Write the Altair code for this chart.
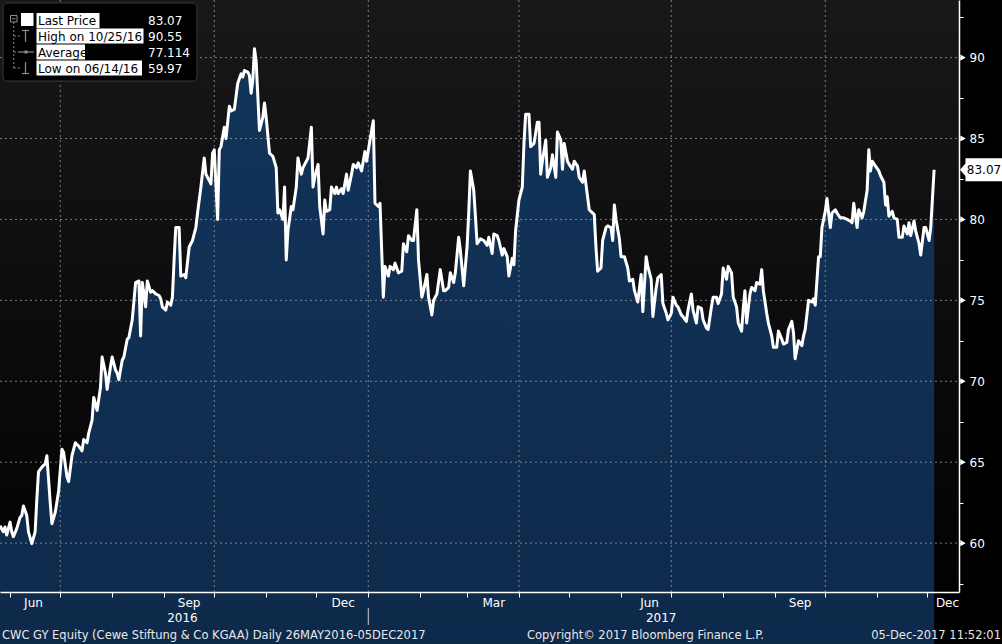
import altair as alt
import pandas as pd

# ---------------- data ----------------
START_DATE = "2016-05-26"
# calendar days after START_DATE
days = [0, 2, 3, 4, 6, 7, 8, 10, 12, 13, 14, 16, 17, 19, 21, 22, 23, 25, 27, 28,
        30, 31, 33, 35, 37, 38, 40, 41, 43, 45, 47, 49, 50, 52, 53, 55, 56, 58, 60, 61,
        63, 64, 66, 67, 69, 70, 71, 73, 74, 76, 77, 79, 81, 83, 84, 85, 87, 88, 90, 91,
        93, 95, 96, 97, 99, 100, 102, 103, 104, 105, 107, 108, 110, 111, 113, 115, 117, 118, 120, 122,
        123, 124, 126, 127, 128, 130, 131, 132, 134, 135, 137, 138, 140, 142, 144, 145, 146, 148, 149, 150,
        151, 152, 153, 155, 157, 158, 159, 161, 162, 163, 165, 166, 167, 169, 170, 171, 172, 174, 175, 177,
        178, 180, 181, 183, 184, 186, 187, 188, 190, 191, 193, 194, 195, 197, 198, 200, 201, 202, 204, 205,
        207, 208, 210, 211, 213, 214, 216, 218, 219, 221, 223, 224, 226, 227, 229, 230, 232, 233, 235, 236,
        238, 240, 241, 243, 244, 246, 247, 249, 250, 252, 253, 255, 256, 258, 259, 261, 263, 265, 266, 268,
        269, 271, 272, 274, 275, 277, 279, 280, 281, 283, 284, 285, 287, 289, 291, 292, 294, 295, 297, 298,
        300, 301, 303, 304, 306, 307, 308, 310, 312, 313, 314, 316, 317, 319, 321, 322, 323, 324, 326, 327,
        329, 330, 332, 333, 335, 336, 337, 339, 340, 342, 343, 345, 346, 348, 349, 350, 352, 353, 355, 356,
        357, 359, 360, 362, 363, 365, 366, 367, 368, 370, 371, 373, 375, 376, 378, 379, 381, 383, 384, 386,
        387, 389, 390, 392, 393, 395, 396, 398, 399, 401, 402, 404, 405, 407, 408, 410, 411, 413, 414, 416,
        417, 419, 420, 422, 423, 425, 426, 428, 429, 431, 432, 434, 435, 437, 438, 440, 441, 443, 444, 445,
        446, 448, 449, 451, 452, 454, 455, 456, 458, 459, 461, 462, 464, 465, 467, 468, 470, 471, 473, 474,
        475, 477, 479, 480, 481, 483, 485, 486, 487, 489, 490, 491, 493, 494, 496, 497, 499, 500, 502, 504,
        506, 508, 509, 510, 512, 513, 515, 516, 518, 519, 520, 521, 523, 525, 526, 528, 529, 530, 531, 533,
        534, 536, 537, 539, 540, 542, 543, 544, 546, 547, 549, 550, 552, 553, 555, 556, 558]
price = [61.07, 60.7, 61.0, 60.5, 61.3, 60.7, 60.4, 60.9, 61.6, 61.7, 62.3, 61.7, 60.7, 59.97, 60.7, 62.7, 64.4, 64.7, 64.9, 65.4,
         62.5, 61.2, 61.9, 63.2, 65.8, 65.6, 64.1, 63.8, 65.4, 66.2, 66.0, 65.7, 66.4, 66.2, 66.8, 67.6, 69.0, 68.2, 69.6, 71.5,
         70.5, 69.5, 70.9, 71.5, 70.7, 70.5, 70.1, 71.3, 71.5, 72.6, 72.7, 73.8, 76.1, 76.2, 72.8, 76.1, 74.6, 76.2, 75.5, 75.6,
         75.4, 75.3, 75.1, 74.6, 74.4, 74.9, 74.7, 75.2, 77.5, 79.5, 79.5, 76.5, 76.6, 76.4, 78.3, 78.7, 79.5, 80.4, 82.0, 83.8,
         82.8, 82.6, 82.2, 84.1, 84.3, 80.0, 84.3, 84.5, 85.7, 85.0, 87.0, 86.7, 86.8, 88.4, 89.0, 88.8, 89.2, 89.1, 88.9, 87.8,
         88.6, 90.55, 89.8, 85.5, 86.3, 87.2, 86.3, 84.1, 84.0, 83.9, 83.2, 80.4, 80.6, 80.0, 82.0, 77.5, 79.3, 80.8, 80.6, 82.0,
         83.8, 82.8, 83.2, 83.6, 83.8, 85.7, 82.0, 82.6, 83.4, 80.8, 79.1, 81.2, 80.5, 80.6, 82.0, 81.6, 82.0, 81.6, 81.9, 81.6,
         82.8, 81.8, 82.8, 83.4, 83.2, 83.5, 83.0, 84.2, 83.6, 84.9, 86.1, 81.0, 80.8, 81.0, 75.2, 77.1, 76.5, 77.1, 76.9, 77.3,
         76.7, 76.8, 78.5, 78.0, 79.0, 78.7, 78.7, 80.6, 77.5, 75.2, 75.6, 76.6, 75.2, 74.1, 75.0, 75.4, 76.9, 75.6, 75.6, 75.8,
         76.7, 76.1, 76.7, 78.9, 78.1, 75.9, 78.3, 80.4, 83.0, 81.8, 80.2, 78.5, 78.8, 78.7, 78.4, 78.9, 77.9, 79.1, 79.0, 78.7,
         77.8, 78.2, 77.7, 76.5, 77.6, 77.2, 79.3, 81.2, 82.0, 84.7, 86.5, 86.5, 84.5, 84.7, 86.0, 86.0, 82.8, 83.6, 84.9, 82.6,
         83.2, 84.0, 82.6, 85.4, 84.9, 83.1, 84.7, 83.6, 83.4, 83.1, 83.6, 83.3, 82.6, 82.3, 83.0, 82.2, 80.6, 80.5, 80.3, 78.3,
         76.8, 77.0, 78.7, 79.5, 79.6, 79.5, 78.7, 80.9, 80.0, 78.8, 77.7, 77.7, 77.0, 76.2, 76.3, 75.6, 74.9, 76.6, 74.3, 77.7,
         77.1, 76.3, 74.0, 75.8, 76.4, 76.6, 74.8, 74.2, 73.8, 74.2, 75.2, 74.7, 74.6, 74.1, 74.0, 73.7, 74.4, 75.4, 74.4, 73.6,
         74.6, 74.5, 73.8, 73.3, 73.2, 74.6, 75.2, 75.2, 74.8, 75.4, 77.0, 76.3, 77.1, 76.7, 75.2, 74.6, 73.6, 73.1, 74.5, 75.6,
         73.6, 75.4, 75.8, 75.6, 76.1, 76.0, 76.9, 75.6, 74.2, 73.6, 72.8, 72.1, 72.1, 73.1, 72.6, 72.3, 72.4, 73.2, 73.7, 73.0,
         71.4, 72.5, 72.2, 72.8, 73.2, 75.0, 74.9, 75.1, 74.7, 77.7, 77.7, 79.5, 80.5, 81.3, 79.5, 80.4, 80.6, 80.4, 80.1, 80.1,
         80.0, 79.9, 79.8, 81.0, 79.5, 80.6, 80.1, 80.5, 81.8, 84.3, 83.0, 83.6, 83.3, 83.0, 82.7, 82.3, 80.9, 81.4, 80.2, 80.5,
         80.1, 80.0, 78.9, 78.9, 79.6, 79.1, 79.8, 79.0, 79.9, 79.3, 78.5, 77.8, 79.5, 79.5, 78.7, 79.5, 83.07]

legend_labels = ["Last Price", "High on 10/25/16", "Average", "Low on 06/14/16"]
legend_values = ["83.07", "90.55", "77.114", "59.97"]
last_price = [83.07]
last_price_text = ["83.07"]

y_major = [60, 65, 70, 75, 80, 85, 90]
y_all_ticks = [57.5, 60, 62.5, 65, 67.5, 70, 72.5, 75, 77.5, 80, 82.5, 85, 87.5, 90, 92.5]
x_tick_dates = ["2016-06-01", "2016-07-01", "2016-08-01", "2016-09-01", "2016-10-01", "2016-11-01",
                "2016-12-01", "2017-01-01", "2017-02-01", "2017-03-01", "2017-04-01", "2017-05-01",
                "2017-06-01", "2017-07-01", "2017-08-01", "2017-09-01", "2017-10-01", "2017-11-01",
                "2017-12-01"]
grid_dates = ["2016-07-01", "2016-10-01", "2017-01-01", "2017-04-01", "2017-07-01", "2017-10-01"]
month_label_dates = ["2016-06-15", "2016-09-16", "2016-12-17", "2017-03-17", "2017-06-18", "2017-09-16", "2017-12-13"]
month_label_text = ["Jun", "Sep", "Dec", "Mar", "Jun", "Sep", "Dec"]
year_label_dates = ["2016-09-12", "2017-06-25"]
year_label_text = ["2016", "2017"]
year_sep_dates = ["2017-01-01"]

footer_left = "CWC GY Equity (Cewe Stiftung & Co KGAA)  Daily 26MAY2016-05DEC2017"
footer_mid = "Copyright\u00a9 2017 Bloomberg Finance L.P."
footer_right = "05-Dec-2017 11:52:01"

# ---------------- chart ----------------
W, H = 959, 592
FONT = "DejaVu Sans"

df = pd.DataFrame({"date": pd.Timestamp(START_DATE) + pd.to_timedelta(days, unit="D"),
                   "price": price})

xs = alt.Scale(domain=[alt.DateTime(year=2016, month=5, date=26),
                       alt.DateTime(year=2017, month=12, date=19, hours=21)])
ys = alt.Scale(domain=[56.98, 93.56], zero=False, nice=False)

one = pd.DataFrame({"k": [0]})


def box(x1, x2, y1, y2, **kw):
    return alt.Chart(one).mark_rect(**kw).encode(
        x=alt.value(x1), x2=alt.value(x2), y=alt.value(y1), y2=alt.value(y2))


def seg(x1, x2, y1, y2, **kw):
    return alt.Chart(one).mark_rule(**kw).encode(
        x=alt.value(x1), x2=alt.value(x2), y=alt.value(y1), y2=alt.value(y2))


def label(text, x, y, **kw):
    return alt.Chart(pd.DataFrame({"t": [text]})).mark_text(font=FONT, baseline="middle", **kw).encode(
        x=alt.value(x), y=alt.value(y), text="t:N")


def grad(c1, c2):
    return alt.Gradient(gradient="linear",
                        stops=[alt.GradientStop(color=c1, offset=0), alt.GradientStop(color=c2, offset=1)],
                        x1=0, x2=0, y1=0, y2=1)


x_axis = alt.Axis(values=[alt.DateTime(year=pd.Timestamp(d).year, month=pd.Timestamp(d).month, date=1)
                          for d in x_tick_dates],
                  labels=False, ticks=True, tickSize=5, tickColor="white", tickWidth=1,
                  domain=True, domainColor="white", domainWidth=1.5, grid=False, title=None, zindex=2)
y_axis = alt.Axis(orient="right", values=y_all_ticks,
                  labelExpr="datum.value % 5 == 0 ? datum.label : ''",
                  tickSize=4, tickColor="white", tickWidth=1, domain=True, domainColor="white",
                  domainWidth=1.5, labelColor="white", labelFont=FONT, labelFontSize=12,
                  labelPadding=6, labelOverlap=False, grid=False, title=None, zindex=2)


def X(field):
    return alt.X(field, scale=xs, axis=x_axis)


def Y(field):
    return alt.Y(field, scale=ys, axis=y_axis)


bg = box(0, W, 0, H, fill=grad("#18181b", "#020203"))

area = alt.Chart(df).mark_area(fill=grad("#12345a", "#071a34"), opacity=1).encode(
    x=X("date:T"), y=Y("price:Q"), y2=alt.value(H))

gstyle = dict(color="#a0a0a0", strokeDash=[2, 3], strokeWidth=1, opacity=0.75)
hgrid = alt.Chart(pd.DataFrame({"v": y_major})).mark_rule(**gstyle).encode(
    y=Y("v:Q"), x=alt.value(0), x2=alt.value(W))
vgrid = alt.Chart(pd.DataFrame({"d": pd.to_datetime(grid_dates)})).mark_rule(**gstyle).encode(
    x=X("d:T"), y=alt.value(0), y2=alt.value(H))

line = alt.Chart(df).mark_line(color="white", strokeWidth=3, strokeJoin="round").encode(
    x=X("date:T"), y=Y("price:Q"))

tri = alt.Chart(pd.DataFrame({"v": y_major})).mark_point(
    shape="triangle-right", filled=True, color="white", size=38, opacity=1).encode(
    x=alt.value(W + 4), y=Y("v:Q"))

tag_path = "M-1,0 L-0.74,-0.3 L-0.74,-0.55 L1,-0.55 L1,0.55 L-0.74,0.55 L-0.74,0.3 Z"
ldf = pd.DataFrame({"v": last_price, "t": last_price_text})
tag = alt.Chart(ldf).mark_point(shape=tag_path, filled=True, color="white", size=1764, opacity=1).encode(
    x=alt.value(981), y=Y("v:Q"))
tag_text = alt.Chart(ldf).mark_text(font=FONT, fontSize=12, color="black", align="center",
                                    baseline="middle").encode(
    x=alt.value(984), y=Y("v:Q"), text="t:N")

mlab = alt.Chart(pd.DataFrame({"d": pd.to_datetime(month_label_dates), "t": month_label_text})).mark_text(
    font=FONT, fontSize=12, color="white", align="center", baseline="middle").encode(
    x=X("d:T"), y=alt.value(H + 11), text="t:N")
ylab = alt.Chart(pd.DataFrame({"d": pd.to_datetime(year_label_dates), "t": year_label_text})).mark_text(
    font=FONT, fontSize=12, color="white", align="center", baseline="middle").encode(
    x=X("d:T"), y=alt.value(H + 26), text="t:N")
ysep = alt.Chart(pd.DataFrame({"d": pd.to_datetime(year_sep_dates)})).mark_rule(
    color="#cfcfcf", strokeWidth=1).encode(
    x=X("d:T"), y=alt.value(H + 16), y2=alt.value(H + 33))

# legend box
ICON = "#8a8a8a"
rows_y = [20.5, 36, 52, 68]
label_box_right = [99.5, 143.5, 85, 142]
legend_layers = [box(3, 197, 3, 81, fill="black", stroke="#3a3a3a", strokeWidth=1, cornerRadius=4)]
for ry, xr, lt, lv in zip(rows_y, label_box_right, legend_labels, legend_values):
    legend_layers.append(box(36.5, xr, ry - 7.5, ry + 7.5, fill="white"))
    legend_layers.append(label(lt, 38, ry + 0.5, fontSize=12, color="black", align="left"))
    legend_layers.append(label(lv, 148, ry + 0.5, fontSize=12, color="white", align="left"))
legend_layers += [
    box(10.5, 17, 15.5, 22, fill="black", stroke=ICON, strokeWidth=1),
    seg(12, 15.5, 18.75, 18.75, color=ICON, strokeWidth=1),
    box(21, 33.5, 13, 26, fill="white"),
    seg(13.75, 13.75, 22, 68, color=ICON, strokeWidth=1, strokeDash=[2, 2]),
    seg(13.75, 21, 36, 36, color=ICON, strokeWidth=1, strokeDash=[2, 2]),
    seg(13.75, 19, 52, 52, color=ICON, strokeWidth=1, strokeDash=[2, 2]),
    seg(13.75, 21, 68, 68, color=ICON, strokeWidth=1, strokeDash=[2, 2]),
    seg(22, 29, 30.5, 30.5, color=ICON, strokeWidth=1.2),
    seg(25.5, 25.5, 30.5, 42, color=ICON, strokeWidth=1.2),
    seg(19, 34, 52, 52, color=ICON, strokeWidth=1.2),
    box(24.5, 27.5, 50.5, 53.5, fill=ICON),
    seg(25.5, 25.5, 62, 73.5, color=ICON, strokeWidth=1.2),
    seg(22, 29, 73.5, 73.5, color=ICON, strokeWidth=1.2),
]

footer = [
    label(footer_left, 2, 636, fontSize=11.5, color="#e8e8e8", align="left"),
    label(footer_mid, 527, 636, fontSize=11.5, color="#e8e8e8", align="left"),
    label(footer_right, 1001, 636, fontSize=11.5, color="#e8e8e8", align="right"),
]

chart = alt.layer(
    bg, area, hgrid, vgrid, line, tri, tag, tag_text, mlab, ylab, ysep, *legend_layers, *footer
).properties(
    width=W, height=H,
    autosize=alt.AutoSizeParams(type="none"),
    padding={"left": 0, "top": 0, "right": 43, "bottom": 52},
    background="black",
).configure_view(strokeWidth=0)

chart.save("out.html", embed_options={"renderer": "svg", "actions": False})
